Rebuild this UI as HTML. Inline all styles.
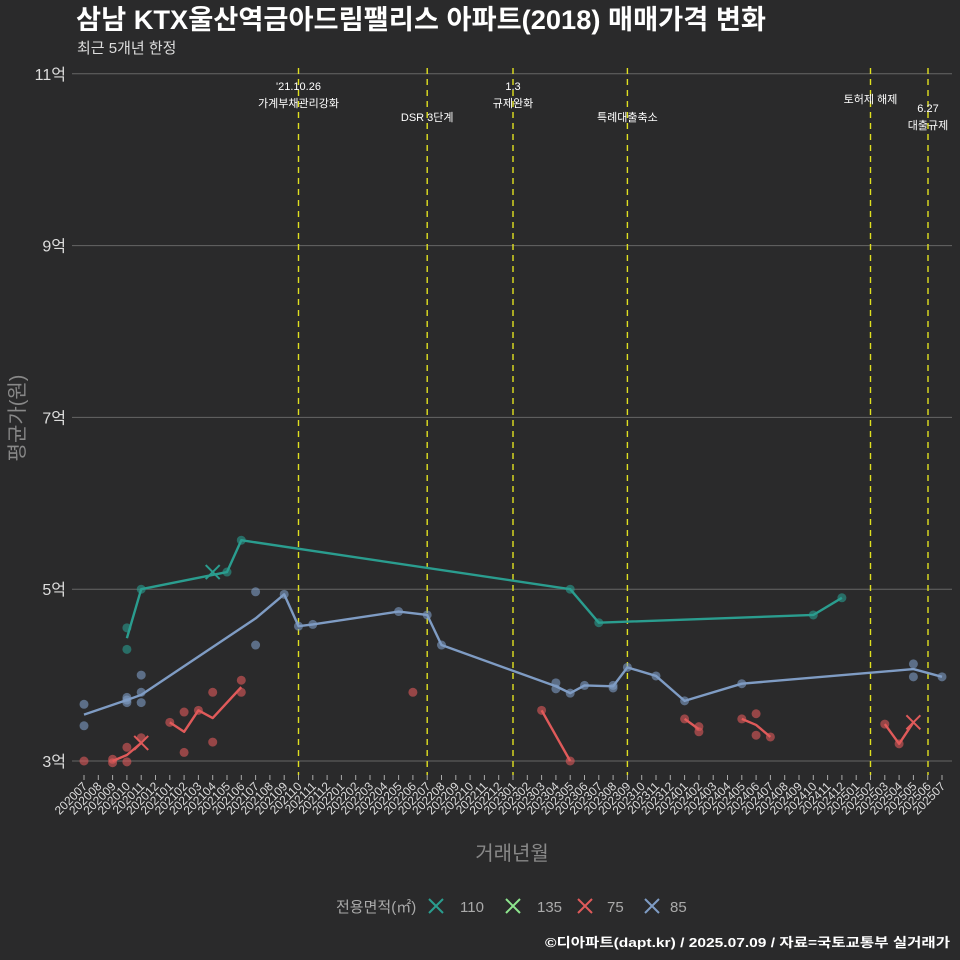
<!DOCTYPE html>
<html><head><meta charset="utf-8"><style>
body{margin:0;background:#2a2a2b;}
svg{display:block;font-family:"Liberation Sans","Noto Sans CJK KR",sans-serif;}
</style></head><body>
<svg id="c" width="960" height="960" viewBox="0 0 960 960">
<rect width="960" height="960" fill="#2a2a2b"/>
<text x="76" y="29" fill="#fff" font-size="27" font-weight="bold" textLength="690" lengthAdjust="spacingAndGlyphs">삼남 KTX울산역금아드림팰리스 아파트(2018) 매매가격 변화</text>
<text x="77" y="53" fill="#ddd" font-size="15">최근 5개년 한정</text>
<text transform="translate(24,418) rotate(-90)" text-anchor="middle" fill="#888" font-size="20">평균가(원)</text>
<text x="512" y="860" text-anchor="middle" fill="#888" font-size="20">거래년월</text>
<g id="grid"></g><g id="xt"></g><g id="ann"></g><g id="series"></g>
<g font-size="15">
<text x="336" y="912" fill="#aaa">전용면적(㎡)</text>
<g><path d="M429 899l14 14M443 899l-14 14" stroke="#2a9d8f" stroke-width="2"/><text x="460" y="912" fill="#aaa">110</text></g>
<g><path d="M506 899l14 14M520 899l-14 14" stroke="#8ee68e" stroke-width="2"/><text x="537" y="912" fill="#aaa">135</text></g>
<g><path d="M578 899l14 14M592 899l-14 14" stroke="#e05a5a" stroke-width="2"/><text x="607" y="912" fill="#aaa">75</text></g>
<g><path d="M645 899l14 14M659 899l-14 14" stroke="#7f9cc4" stroke-width="2"/><text x="670" y="912" fill="#aaa">85</text></g>
</g>
<text x="950" y="947" text-anchor="end" fill="#fff" font-size="13" font-weight="bold" textLength="405" lengthAdjust="spacingAndGlyphs">©디아파트(dapt.kr) / 2025.07.09 / 자료=국토교통부 실거래가</text>
</svg>
<script>
const months=[];for(let y=2020;y<=2025;y++)for(let m=1;m<=12;m++){const i=(y-2020)*12+m;if(i>=7&&i<=67)months.push(''+y+String(m).padStart(2,'0'));}
const yTicks=[3,5,7,9,11];
const yTickLabels=['3억','5억','7억','9억','11억'];
const events=[{m:'202110',t:["'21.10.26","가계부채관리강화"],y:90},{m:'202207',t:["DSR 3단계"],y:121},{m:'202301',t:["1.3","규제완화"],y:90},{m:'202309',t:["특례대출축소"],y:121},{m:'202502',t:["토허제 해제"],y:103},{m:'202507',t:["6.27","대출규제"],y:112}];
const line110=[['202010',4.43],['202011',5.0],['202105',5.2],['202106',5.57],['202305',5.0],['202307',4.61],['202410',4.7],['202412',4.9]];
const pts110=[['202010',4.55],['202010',4.30],['202011',5.0],['202105',5.2],['202106',5.57],['202305',5.0],['202307',4.61],['202410',4.7],['202412',4.9]];
const x110=[['202104',5.2]];
const line85=[['202007',3.54],['202010',3.71],['202011',3.77],['202107',4.66],['202109',4.94],['202110',4.57],['202111',4.59],['202205',4.74],['202207',4.70],['202208',4.35],['202304',3.87],['202305',3.79],['202306',3.88],['202308',3.87],['202309',4.09],['202311',3.99],['202401',3.70],['202405',3.90],['202505',4.07],['202507',3.98]];
const pts85=[['202007',3.66],['202007',3.41],['202010',3.74],['202010',3.71],['202010',3.68],['202011',4.0],['202011',3.80],['202011',3.68],['202107',4.97],['202107',4.35],['202109',4.94],['202110',4.57],['202111',4.59],['202205',4.74],['202207',4.70],['202208',4.35],['202304',3.91],['202304',3.84],['202305',3.79],['202306',3.88],['202308',3.85],['202308',3.88],['202309',4.09],['202311',3.99],['202401',3.70],['202405',3.90],['202505',4.13],['202505',3.98],['202507',3.98]];
const line75=[[['202009',3.0],['202010',3.07],['202011',3.21]],[['202101',3.45],['202102',3.34],['202103',3.59],['202104',3.50],['202106',3.86]],[['202303',3.59],['202305',3.0]],[['202401',3.49],['202402',3.37]],[['202405',3.49],['202406',3.42],['202407',3.28]],[['202503',3.43],['202504',3.20],['202505',3.45]]];
const pts75=[['202007',3.0],['202009',3.02],['202009',2.98],['202010',3.16],['202010',2.99],['202011',3.27],['202101',3.45],['202102',3.57],['202102',3.10],['202103',3.59],['202104',3.80],['202104',3.22],['202106',3.94],['202106',3.80],['202206',3.80],['202303',3.59],['202305',3.0],['202401',3.49],['202402',3.40],['202402',3.34],['202405',3.49],['202406',3.55],['202406',3.30],['202407',3.28],['202503',3.43],['202504',3.20]];
const x75=[['202011',3.21],['202505',3.45]];
const NS='http://www.w3.org/2000/svg';
const X0=84,X1=942,Y3=761,PX=85.9;
function xs(m){return X0+months.indexOf(m)*(X1-X0)/(months.length-1);}
function ys(v){return Y3-(v-3)*PX;}
function mk(t,a,p){const e=document.createElementNS(NS,t);for(const k in a)e.setAttribute(k,a[k]);(p||document.getElementById('series')).appendChild(e);return e;}
const grid=document.getElementById('grid');
yTicks.forEach((v,i)=>{
const l=mk('line',{x1:72,x2:952,y1:ys(v),y2:ys(v),stroke:'#666','stroke-width':1},grid);


const t=mk('text',{x:66,y:ys(v)+6,'text-anchor':'end',fill:'#ddd','font-size':16},grid);t.textContent=yTickLabels[i];


});
const xt=document.getElementById('xt');
months.forEach(m=>{const x=xs(m);
const l=mk('line',{x1:x,x2:x,y1:775,y2:780,stroke:'#aaa'},xt);


const t=mk('text',{transform:`translate(${x+4},${787}) rotate(-45)`,'text-anchor':'end',fill:'#ddd','font-size':12},xt);t.textContent=m;


});
const ann=document.getElementById('ann');
events.forEach(ev=>{const x=xs(ev.m)-(ev.m==='202507'?14:0);
const l=mk('line',{x1:x,x2:x,y1:68,y2:775,stroke:'#e0e020','stroke-width':1.4,'stroke-dasharray':'6,5'},ann);


ev.t.forEach((s,j)=>{const t=mk('text',{x:x,y:ev.y+j*17,'text-anchor':'middle',fill:'#fff','font-size':11},ann);t.textContent=s;

});
});
function path(arr){return arr.map((p,i)=>(i?'L':'M')+xs(p[0])+' '+ys(p[1])).join('');}
function series(pts,lines,xm,col,name){
pts.forEach(p=>{const c=mk('circle',{cx:xs(p[0]),cy:ys(p[1]),r:4.5,fill:col,opacity:0.6});

});
lines.forEach(L=>{const e=mk('path',{d:path(L),fill:'none',stroke:col,'stroke-width':2.4,'stroke-linejoin':'round'});

});
xm.forEach(p=>{const x=xs(p[0]),y=ys(p[1]);
const e=mk('path',{d:`M${x-7} ${y-7}L${x+7} ${y+7}M${x+7} ${y-7}L${x-7} ${y+7}`,stroke:col,'stroke-width':2});

});
}
series(pts85,[line85],[],'#7f9cc4','85');
series(pts110,[line110],x110,'#2a9d8f','110');
series(pts75,line75,x75,'#e05a5a','75');
</script>
</body></html>
